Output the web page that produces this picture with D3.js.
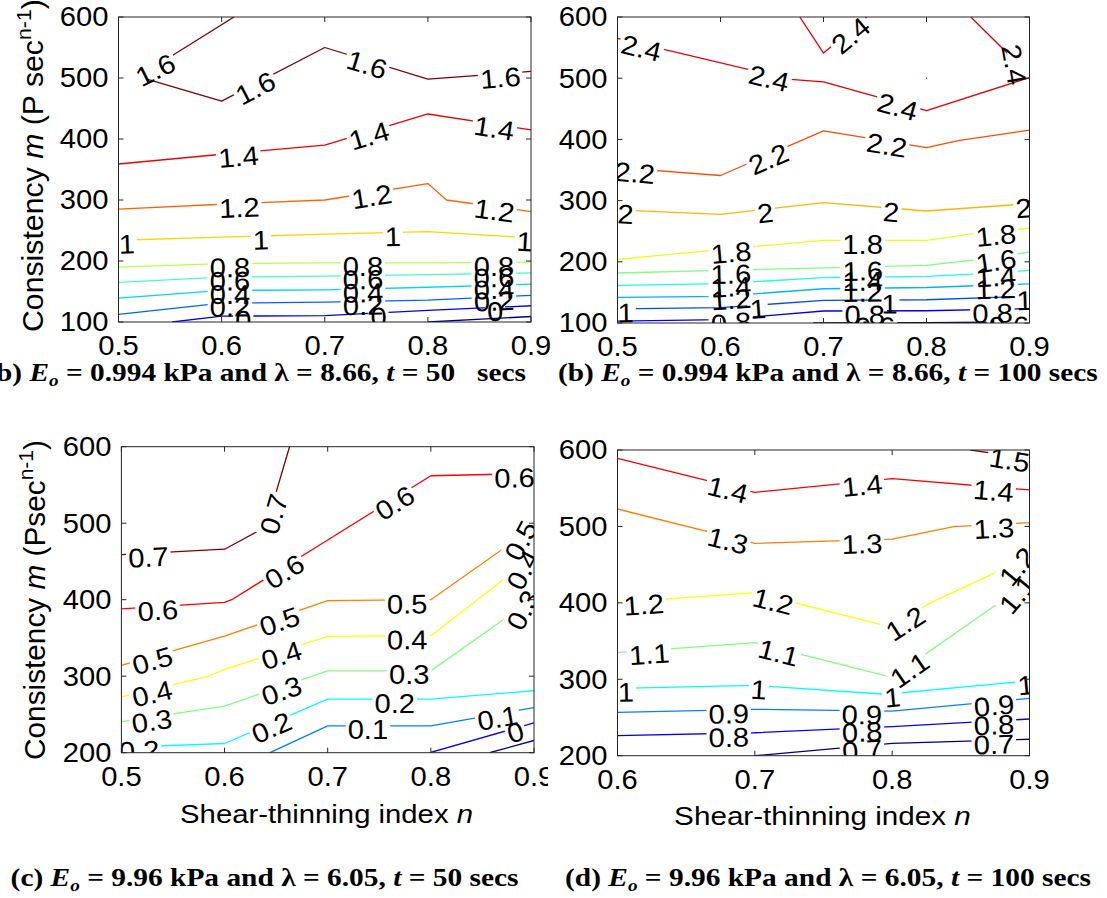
<!DOCTYPE html>
<html>
<head>
<meta charset="utf-8">
<script src="https://cdn.jsdelivr.net/npm/d3@7"></script>
<style>
  body { margin: 0; background: #fff; }
  svg { display: block; }
  text { font-family: "Liberation Sans", Arial, Helvetica, sans-serif; white-space: pre; }
  .cap { font-family: "Liberation Serif", "Times New Roman", Times, serif; font-weight: bold; }
</style>
</head>
<body>
<svg id="fig" width="1107" height="898"></svg>
<script>
// ---- axis ticks ----
const nTicksFull = [0.5, 0.6, 0.7, 0.8, 0.9];
const nTicksD = [0.6, 0.7, 0.8, 0.9];
const mTicksTop = [100, 200, 300, 400, 500, 600];
const mTicksBottom = [200, 300, 400, 500, 600];

// ---- contour lines: level v, points [n, m] ----
const linesA = [
  { v: 1.6, pts: [[0.612, 600], [0.541, 525], [0.516, 504], [0.6, 462], [0.7, 550], [0.8, 498], [0.856, 505], [0.9, 511]] },
  { v: 1.4, pts: [[0.5, 359], [0.6, 375], [0.7, 390], [0.8, 441], [0.9, 415]] },
  { v: 1.2, pts: [[0.5, 285], [0.6, 293], [0.7, 300], [0.8, 327], [0.818, 300], [0.9, 281]] },
  { v: 1.0, pts: [[0.5, 234], [0.6, 239], [0.7, 244], [0.8, 248], [0.9, 238]] },
  { v: 0.8, pts: [[0.5, 190], [0.6, 195.6], [0.7, 197], [0.8, 197], [0.9, 198]] },
  { v: 0.6, pts: [[0.5, 165], [0.6, 173.6], [0.7, 175.3], [0.8, 177.5], [0.9, 180.5]] },
  { v: 0.4, pts: [[0.5, 139], [0.6, 151.7], [0.7, 152.8], [0.8, 157], [0.9, 162]] },
  { v: 0.2, pts: [[0.5, 112.5], [0.6, 131], [0.7, 132.5], [0.8, 136], [0.9, 143.6]] },
  { v: 0.0, pts: [[0.552, 100], [0.6, 109.5], [0.7, 110.6], [0.8, 119], [0.9, 126.6]] },
  { v: -0.2, pts: [[0.8, 100], [0.9, 109]] }
];
const labelsA = [
  { line: 0, n: 0.534 }, { line: 0, n: 0.631 }, { line: 0, n: 0.742 }, { line: 0, n: 0.870 },
  { line: 1, n: 0.616 }, { line: 1, n: 0.742 }, { line: 1, n: 0.865 },
  { line: 2, n: 0.617 }, { line: 2, n: 0.745 }, { line: 2, n: 0.865 },
  { line: 3, n: 0.508 }, { line: 3, n: 0.638 }, { line: 3, n: 0.766 }, { line: 3, n: 0.894 },
  { line: 4, n: 0.608 }, { line: 4, n: 0.737 }, { line: 4, n: 0.864 },
  { line: 5, n: 0.608 }, { line: 5, n: 0.737 }, { line: 5, n: 0.864 },
  { line: 6, n: 0.608 }, { line: 6, n: 0.737 }, { line: 6, n: 0.864 },
  { line: 7, n: 0.608 }, { line: 7, n: 0.737 }, { line: 7, n: 0.864 },
  { line: 8, n: 0.621 }, { line: 8, n: 0.752 }, { line: 8, n: 0.865 }
];

const linesB = [
  { v: 2.4, pts: [[0.5, 565], [0.668, 498], [0.7, 494], [0.8, 447], [0.9, 501]] },
  { v: 2.4, pts: [[0.677, 600], [0.7, 541], [0.742, 600]] },
  { v: 2.4, pts: [[0.843, 600], [0.9, 505]] },
  { v: 2.4, pts: [[0.7995, 499.6], [0.8005, 500.2]] },
  { v: 2.2, pts: [[0.5, 354], [0.6, 341], [0.7, 414], [0.8, 386.5], [0.832, 398.5], [0.9, 415]] },
  { v: 2.0, pts: [[0.5, 285], [0.6, 277.6], [0.7, 296.7], [0.8, 283], [0.9, 295]] },
  { v: 1.8, pts: [[0.5, 204], [0.6, 220], [0.7, 235], [0.8, 235], [0.846, 246], [0.9, 255]] },
  { v: 1.6, pts: [[0.5, 181.7], [0.6, 186], [0.7, 190], [0.8, 194], [0.857, 205], [0.9, 216]] },
  { v: 1.4, pts: [[0.5, 161.6], [0.6, 164.3], [0.7, 174], [0.8, 176.3], [0.857, 181], [0.9, 186]] },
  { v: 1.2, pts: [[0.5, 142], [0.6, 143.6], [0.7, 156], [0.8, 158], [0.9, 164]] },
  { v: 1.0, pts: [[0.5, 123], [0.6, 125], [0.7, 137], [0.8, 138], [0.9, 143.6]] },
  { v: 0.8, pts: [[0.5, 103], [0.6, 105.5], [0.7, 119.6], [0.8, 120], [0.9, 123.5]] },
  { v: 0.6, pts: [[0.69, 100], [0.8, 100.6], [0.9, 101.8]] }
];
const labelsB = [
  { line: 0, n: 0.524 }, { line: 0, n: 0.648 }, { line: 0, n: 0.773 },
  { line: 1, n: 0.724 },
  { line: 2, n: 0.889, rot: 80 },
  { line: 4, n: 0.517 }, { line: 4, n: 0.645 }, { line: 4, n: 0.762 },
  { line: 5, n: 0.508 }, { line: 5, n: 0.643 }, { line: 5, n: 0.766 }, { line: 5, n: 0.894 },
  { line: 6, n: 0.61 }, { line: 6, n: 0.738 }, { line: 6, n: 0.867 },
  { line: 7, n: 0.61 }, { line: 7, n: 0.738 }, { line: 7, n: 0.867 },
  { line: 8, n: 0.61 }, { line: 8, n: 0.738 }, { line: 8, n: 0.867 },
  { line: 9, n: 0.61 }, { line: 9, n: 0.738 }, { line: 9, n: 0.867 },
  { line: 10, n: 0.508 }, { line: 10, n: 0.636 }, { line: 10, n: 0.764 }, { line: 10, n: 0.895 },
  { line: 11, n: 0.61 }, { line: 11, n: 0.74 }, { line: 11, n: 0.864 },
  { line: 12, n: 0.75 }, { line: 12, n: 0.88 }
];

const linesC = [
  { v: 0.7, pts: [[0.5, 459], [0.6, 466], [0.64, 495], [0.663, 600]] },
  { v: 0.6, pts: [[0.5, 388], [0.6, 396.5], [0.607, 400], [0.7, 478], [0.8, 562], [0.9, 565]] },
  { v: 0.5, pts: [[0.5, 314], [0.6, 352.5], [0.7, 398.7], [0.8, 400], [0.9, 495]] },
  { v: 0.4, pts: [[0.5, 273], [0.583, 299.3], [0.6, 309], [0.7, 352], [0.8, 353], [0.874, 430], [0.9, 455]] },
  { v: 0.3, pts: [[0.5, 240.5], [0.6, 261], [0.7, 307], [0.8, 307], [0.9, 402]] },
  { v: 0.2, pts: [[0.5, 207], [0.6, 212], [0.7, 270], [0.8, 270], [0.9, 281]] },
  { v: 0.1, pts: [[0.644, 200], [0.7, 235], [0.8, 235], [0.9, 259]] },
  { v: 0.0, pts: [[0.799, 200], [0.9, 239]] },
  { v: -0.1, pts: [[0.857, 200], [0.9, 216]] }
];
const labelsC = [
  { line: 0, n: 0.526 }, { line: 0, n: 0.644 },
  { line: 1, n: 0.535 }, { line: 1, n: 0.656 }, { line: 1, n: 0.763 }, { line: 1, n: 0.881 },
  { line: 2, n: 0.529 }, { line: 2, n: 0.652 }, { line: 2, n: 0.777 }, { line: 2, n: 0.884, rot: -62 },
  { line: 3, n: 0.529 }, { line: 3, n: 0.654 }, { line: 3, n: 0.777 }, { line: 3, n: 0.886, rot: -62 },
  { line: 4, n: 0.529 }, { line: 4, n: 0.654 }, { line: 4, n: 0.779 }, { line: 4, n: 0.886, rot: -62 },
  { line: 5, n: 0.517 }, { line: 5, n: 0.644 }, { line: 5, n: 0.765 },
  { line: 6, n: 0.739 }, { line: 6, n: 0.864 },
  { line: 7, n: 0.881 }
];

const linesD = [
  { v: 1.5, pts: [[0.857, 600], [0.874, 595.6], [0.9, 588]] },
  { v: 1.4, pts: [[0.6, 589], [0.7, 544.6], [0.8, 562.5], [0.9, 547.7]] },
  { v: 1.3, pts: [[0.6, 522.8], [0.7, 477.9], [0.8, 483.5], [0.845, 499.7], [0.9, 505]] },
  { v: 1.2, pts: [[0.6, 400.2], [0.7, 413.3], [0.8, 368], [0.827, 399.3], [0.9, 460]] },
  { v: 1.1, pts: [[0.6, 335], [0.7, 347.9], [0.8, 302.5], [0.9, 428]] },
  { v: 1.0, pts: [[0.6, 288.2], [0.7, 292], [0.795, 280.4], [0.9, 298]] },
  { v: 0.9, pts: [[0.6, 256.7], [0.7, 260.7], [0.8, 258.3], [0.9, 275]] },
  { v: 0.8, pts: [[0.6, 226.2], [0.7, 230], [0.8, 238], [0.9, 248]] },
  { v: 0.7, pts: [[0.7, 200], [0.8, 216.2], [0.9, 221.5]] }
];
const labelsD = [
  { line: 0, n: 0.886 },
  { line: 1, n: 0.681 }, { line: 1, n: 0.778 }, { line: 1, n: 0.874 },
  { line: 2, n: 0.681 }, { line: 2, n: 0.778 }, { line: 2, n: 0.874 },
  { line: 3, n: 0.619 }, { line: 3, n: 0.714 }, { line: 3, n: 0.808 }, { line: 3, n: 0.889, rot: -50 },
  { line: 4, n: 0.623 }, { line: 4, n: 0.718 }, { line: 4, n: 0.811 }, { line: 4, n: 0.889, rot: -50 },
  { line: 5, n: 0.606 }, { line: 5, n: 0.703 }, { line: 5, n: 0.80 }, { line: 5, n: 0.897 },
  { line: 6, n: 0.681 }, { line: 6, n: 0.778 }, { line: 6, n: 0.874 },
  { line: 7, n: 0.681 }, { line: 7, n: 0.778 }, { line: 7, n: 0.874 },
  { line: 8, n: 0.778 }, { line: 8, n: 0.874 }
];

// ---- panel captions ----
const capTags = ["(b) ", "(b) ", "(c) ", "(d) "];
const capE = ["0.994", "0.994", "9.96", "9.96"];
const capLambda = ["8.66", "8.66", "6.05", "6.05"];
const capT = ["50  ", "100", "50", "100"];

const W = 1107, H = 898;
const LABEL_SIZE = 27, TICK_SIZE = 27, SX = 1.08;   // text is drawn slightly wide
const svg = d3.select("#fig");
const defs = svg.append("defs");

// MATLAB-style jet colour map
function jet(t) {
  const c = v => Math.max(0, Math.min(1, v));
  return d3.rgb(255 * c(1.5 - Math.abs(4 * t - 3)), 255 * c(1.5 - Math.abs(4 * t - 2)), 255 * c(1.5 - Math.abs(4 * t - 1))).toString();
}
const fmtLevel = v => String(+v.toFixed(2));

// point on a polyline where it crosses n (k-th crossing), with the local direction in pixels
function locate(pts, n, k, x, y) {
  let count = 0;
  for (let i = 0; i < pts.length - 1; i++) {
    const a = pts[i], b = pts[i + 1];
    if (a[0] === b[0]) continue;
    if ((n - a[0]) * (n - b[0]) <= 0) {
      if (count === k) {
        const t = (n - a[0]) / (b[0] - a[0]);
        const m = a[1] + t * (b[1] - a[1]);
        let ang = Math.atan2(y(b[1]) - y(a[1]), x(b[0]) - x(a[0])) * 180 / Math.PI;
        if (ang > 90) ang -= 180;
        if (ang <= -90) ang += 180;
        return { px: x(n), py: y(m), ang };
      }
      count++;
    }
  }
  return null;
}

function drawPanel(p) {
  const [x0, x1, y0, y1] = p.box;
  const x = d3.scaleLinear().domain(p.nDomain).range([x0, x1]);
  const y = d3.scaleLinear().domain(p.mDomain).range([y1, y0]);
  const color = v => jet((v - p.levelRange[0]) / (p.levelRange[1] - p.levelRange[0]));

  const clipId = "clip-" + p.id;
  defs.append("clipPath").attr("id", clipId).append("rect")
    .attr("x", x0).attr("y", y0).attr("width", x1 - x0).attr("height", y1 - y0);
  const plot = svg.append("g").attr("clip-path", `url(#${clipId})`);
  const lineLayer = plot.append("g");
  const textLayer = plot.append("g");
  const lineGen = d3.line().x(d => x(d[0])).y(d => y(d[1]));

  // inline contour labels
  const gaps = p.lines.map(() => []);
  p.labels.forEach(lb => {
    const ln = p.lines[lb.line];
    const pos = locate(ln.pts, lb.n, lb.k || 0, x, y);
    if (!pos) return;
    const ang = lb.rot != null ? lb.rot : pos.ang;
    const t = textLayer.append("text")
      .attr("transform", `translate(${pos.px},${pos.py}) rotate(${ang}) scale(${SX},1)`)
      .attr("text-anchor", "middle").attr("dy", "0.5em")
      .attr("font-size", LABEL_SIZE).attr("fill", "#000")
      .text(fmtLevel(ln.v));
    gaps[lb.line].push({ px: pos.px, py: pos.py, ang, w: t.node().getComputedTextLength() * SX });
  });

  // contour lines, broken where their own labels sit
  p.lines.forEach((ln, i) => {
    const maskId = `mask-${p.id}-${i}`;
    const mask = defs.append("mask").attr("id", maskId)
      .attr("maskUnits", "userSpaceOnUse").attr("x", 0).attr("y", 0).attr("width", W).attr("height", H);
    mask.append("rect").attr("width", W).attr("height", H).attr("fill", "#fff");
    gaps[i].forEach(g => mask.append("rect")
      .attr("transform", `translate(${g.px},${g.py}) rotate(${g.ang})`)
      .attr("x", -g.w / 2 - 2).attr("y", -9).attr("width", g.w + 4).attr("height", 18)
      .attr("fill", "#000"));
    lineLayer.append("path").attr("d", lineGen(ln.pts))
      .attr("fill", "none").attr("stroke", color(ln.v)).attr("stroke-width", 1.3)
      .attr("stroke-linejoin", "round").attr("mask", `url(#${maskId})`);
  });

  // box and inward ticks
  const axes = svg.append("g").attr("stroke", "#262626").attr("stroke-width", 1).attr("fill", "none");
  axes.append("rect").attr("x", x0).attr("y", y0).attr("width", x1 - x0).attr("height", y1 - y0);
  const tl = 5;
  p.xTicks.forEach(v => {
    axes.append("line").attr("x1", x(v)).attr("x2", x(v)).attr("y1", y1).attr("y2", y1 - tl);
    axes.append("line").attr("x1", x(v)).attr("x2", x(v)).attr("y1", y0).attr("y2", y0 + tl);
  });
  p.yTicks.forEach(v => {
    axes.append("line").attr("x1", x0).attr("x2", x0 + tl).attr("y1", y(v)).attr("y2", y(v));
    axes.append("line").attr("x1", x1).attr("x2", x1 - tl).attr("y1", y(v)).attr("y2", y(v));
  });

  // tick labels
  const tickG = svg.append("g").attr("font-size", TICK_SIZE).attr("fill", "#000");
  if (p.tickClipRight) {
    const tcId = "tclip-" + p.id;
    defs.append("clipPath").attr("id", tcId).append("rect")
      .attr("x", 0).attr("y", 0).attr("width", p.tickClipRight).attr("height", H);
    tickG.attr("clip-path", `url(#${tcId})`);
  }
  p.xTicks.forEach(v => tickG.append("text")
    .attr("transform", `translate(${x(v)},${y1 + 33}) scale(${SX},1)`)
    .attr("text-anchor", "middle").text(d3.format(".1f")(v)));
  p.yTicks.forEach(v => tickG.append("text")
    .attr("transform", `translate(${x0 - 10},${y(v)}) scale(${SX},1)`)
    .attr("dy", "0.35em").attr("text-anchor", "end").text(v));

  // axis titles
  if (p.yLabel) {
    const yl = svg.append("text").attr("font-size", 27).attr("fill", "#000");
    yl.append("tspan").text("Consistency ");
    yl.append("tspan").attr("font-style", "italic").text("m");
    yl.append("tspan").text(p.yLabel.unit);
    yl.append("tspan").attr("font-size", 19).attr("dy", -11).text("n-1");
    yl.append("tspan").attr("dy", 11).text(")");
    const w = yl.node().getComputedTextLength();
    yl.attr("transform", `translate(${p.yLabel.x},${p.yLabel.y}) rotate(-90) scale(${p.yLabel.len / w},${SX})`);
  }
  if (p.xLabel) {
    const xl = svg.append("text").attr("font-size", 26).attr("fill", "#000")
      .attr("text-anchor", "middle");
    xl.append("tspan").text("Shear-thinning index ");
    xl.append("tspan").attr("font-style", "italic").text("n");
    const w = xl.node().getComputedTextLength();
    xl.attr("transform", `translate(${p.xLabel.cx},${p.xLabel.y}) scale(${p.xLabel.w / w},1)`);
  }
}

drawPanel({ id: "a", box: [118.5, 531, 17, 322], nDomain: [0.5, 0.9], mDomain: [100, 600],
  xTicks: nTicksFull, yTicks: mTicksTop, lines: linesA, labels: labelsA, levelRange: [-0.2, 1.6],
  yLabel: { x: 43, y: 332, len: 333, unit: " (P sec" } });
drawPanel({ id: "b", box: [617.5, 1029.5, 17, 323], nDomain: [0.5, 0.9], mDomain: [100, 600],
  xTicks: nTicksFull, yTicks: mTicksTop, lines: linesB, labels: labelsB, levelRange: [0.6, 2.6] });
drawPanel({ id: "c", box: [121.4, 534, 446.7, 752.7], nDomain: [0.5, 0.9], mDomain: [200, 600],
  xTicks: nTicksFull, yTicks: mTicksBottom, lines: linesC, labels: labelsC, levelRange: [-0.1, 0.7],
  yLabel: { x: 45, y: 760, len: 320, unit: " (Psec" }, xLabel: { cx: 326.5, y: 823, w: 293 }, tickClipRight: 548 });
drawPanel({ id: "d", box: [617.5, 1029.5, 450, 755.7], nDomain: [0.6, 0.9], mDomain: [200, 600],
  xTicks: nTicksD, yTicks: mTicksBottom, lines: linesD, labels: labelsD, levelRange: [0.7, 1.5],
  xLabel: { cx: 822.5, y: 825, w: 297 } });

// captions under each panel
const capLayout = [
  { anchor: "end", x: 526, y: 381, w: null },
  { anchor: "start", x: 558, y: 381, w: 540 },
  { anchor: "start", x: 10.6, y: 886, w: 508 },
  { anchor: "start", x: 565, y: 886, w: 526 }
];
let lastScale = 1;
[1, 0, 2, 3].forEach(i => {
  const L = capLayout[i];
  const t = svg.append("text").attr("class", "cap").attr("font-size", 26).attr("fill", "#000")
    .attr("text-anchor", L.anchor);
  t.append("tspan").text(capTags[i]);
  t.append("tspan").attr("font-style", "italic").text("E");
  t.append("tspan").attr("font-style", "italic").attr("font-size", 17).attr("dy", 5).text("o");
  t.append("tspan").attr("dy", -5).text(` = ${capE[i]} kPa and λ = ${capLambda[i]}, `);
  t.append("tspan").attr("font-style", "italic").text("t");
  t.append("tspan").text(` = ${capT[i]} secs`);
  const w = t.node().getComputedTextLength();
  const s = L.w ? L.w / w : lastScale;
  lastScale = s;
  t.attr("transform", `translate(${L.x},${L.y}) scale(${s},1)`);
});
</script>
</body>
</html>
